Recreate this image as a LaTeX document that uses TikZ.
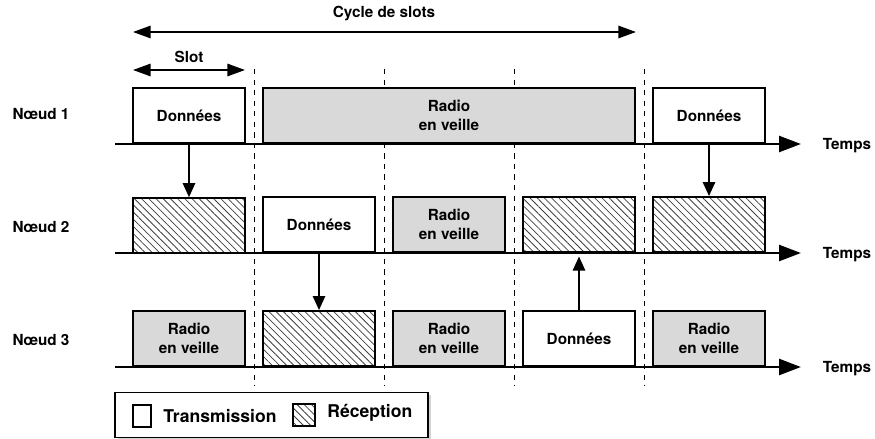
\documentclass[tikz,border=0pt]{standalone}
\usepackage{fontspec}
\setmainfont{TeX Gyre Heros}
\usetikzlibrary{arrows.meta,patterns.meta,positioning,shadows}

\begin{document}
\begin{tikzpicture}[x=0.02cm,y=-0.02cm,>={Triangle[length=8pt,width=7pt]},
  font=\bfseries\fontsize{8.7}{10.5}\selectfont,
  hachure/.style={pattern={Lines[angle=-45,distance=2.9pt,line width=0.45pt]},pattern color=black!75},
  slotbox/.style={draw,line width=1.1pt,minimum width=2.24cm,minimum height=1.1cm,inner sep=0pt,align=center,anchor=south},
  veille/.style={slotbox,fill=gray!30},
  recept/.style={slotbox,hachure},
  axe/.style={line width=1.7pt,-{Triangle[length=12.5pt,width=9pt]}},
  msg/.style={line width=1.1pt,->},
  duree/.style={line width=1.1pt,{Triangle[length=10pt,width=7pt]}-{Triangle[length=10pt,width=7pt]}}]
\useasboundingbox (0,0) rectangle (875,439);
% separateurs de slots
\foreach \x in {254,384,514,644}
  \draw[dashed,thin] (\x,69) -- (\x,386);
% cycle et slot
\coordinate (cycA) at (133,32);
\coordinate (cycB) at (636,32);
\draw[duree] (cycA) -- (cycB);
\node (cyc) at (384,14) {Cycle de slots};
\coordinate (slA) at (133,70);
\coordinate (slB) at (245,70);
\draw[duree] (slA) -- (slB);
\node (sl) at (189,57) {Slot};
% axes du temps
\foreach \i/\y in {1/144,2/253,3/367} {
  \coordinate (t\i) at (115,\y);
  \coordinate (t\i e) at (801,\y);
  \draw[axe] (t\i) -- (t\i e);
  \node (temps\i) at (847,\y+2) {Temps};
}
\node (nd1) at (41,114) {Nœud 1};
\node (nd2) at (41,227) {Nœud 2};
\node (nd3) at (41,340) {Nœud 3};
% noeud 1
\node[slotbox] (d1a) at (189,144) {Données};
\node[veille,minimum width=7.44cm] (v1) at (449,144) {Radio\\en veille};
\node[slotbox] (d1b) at (709,144) {Données};
% noeud 2
\node[recept] (r2a) at (189,253) {};
\node[slotbox] (d2) at (319,253) {Données};
\node[veille] (v2) at (449,253) {Radio\\en veille};
\node[recept] (r2b) at (579,253) {};
\node[recept] (r2c) at (709,253) {};
% noeud 3
\node[veille] (v3a) at (189,367) {Radio\\en veille};
\node[recept] (r3) at (319,367) {};
\node[veille] (v3b) at (449,367) {Radio\\en veille};
\node[slotbox] (d3) at (579,367) {Données};
\node[veille] (v3c) at (709,367) {Radio\\en veille};
% messages
\draw[msg] (d1a.south) -- (r2a.north);
\draw[msg] (d1b.south) -- (r2c.north);
\draw[msg] (d2.south) -- (r3.north);
\draw[msg,shorten >=2pt] (d3.north) -- (r2b.south);
% legende
\node[draw,line width=0.8pt,fill=white,drop shadow={shadow xshift=1.5pt,shadow yshift=-1.5pt,opacity=0.35},
  minimum width=6.26cm,minimum height=0.9cm] (leg) at (271.5,415) {};
\node[draw,line width=1.1pt,minimum width=0.36cm,minimum height=0.44cm] (legT) at (142,416) {};
\node[right=3pt of legT,font=\bfseries\fontsize{10}{12}\selectfont] (txtT) {Transmission};
\node[draw,line width=1.1pt,hachure,minimum width=0.44cm,minimum height=0.44cm] (legR) at (304,415) {};
\node[right=3pt of legR,font=\bfseries\fontsize{10}{12}\selectfont,yshift=1pt] (txtR) {Réception};
\end{tikzpicture}
\end{document}
